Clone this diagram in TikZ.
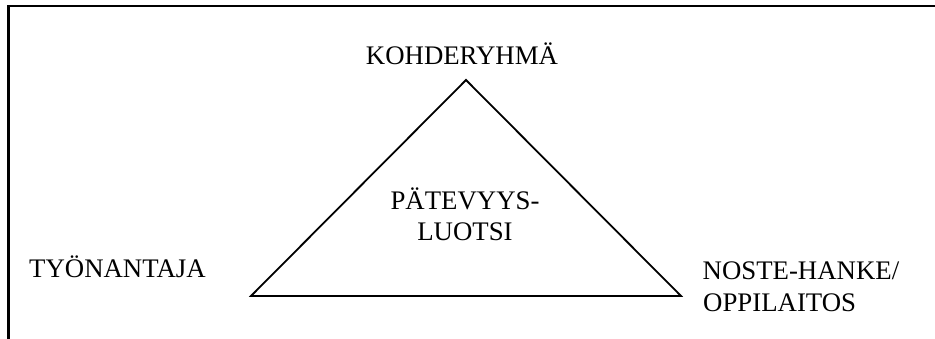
\documentclass[tikz,border=0pt]{standalone}
\usepackage{fontspec}
\setmainfont{Liberation Serif}
\begin{document}
\begin{tikzpicture}[x=1pt,y=-1pt,
  lbl/.style={inner sep=0pt,font=\fontsize{26.8}{32}\selectfont},
  frame/.style={line width=2.3pt,black},
  tri/.style={line width=1.8pt,black,line join=miter}]
\useasboundingbox (0,0) rectangle (935,339);
% frame
\draw[frame] (8.5,339) -- (8.5,6) -- (935,6);
% triangle
\coordinate (apex) at (466,80);
\coordinate (bl) at (251,296);
\coordinate (br) at (681,296);
\draw[tri] (apex) -- (br) -- (bl) -- cycle;
% labels
\node[lbl,anchor=base] (koh) at (462,65) {KOHDERYHMÄ};
\node[lbl,anchor=base west] (tyo) at (29,278) {TYÖNANTAJA};
\node[lbl,anchor=base west] (noste) at (702.5,279.5) {NOSTE-HANKE/};
\node[lbl,anchor=base west] (oppi) at (703,311.5) {OPPILAITOS};
\node[lbl,anchor=base] (pat) at (465,210) {PÄTEVYYS-};
\node[lbl,anchor=base] (luo) at (465,241) {LUOTSI};
\end{tikzpicture}
\end{document}
